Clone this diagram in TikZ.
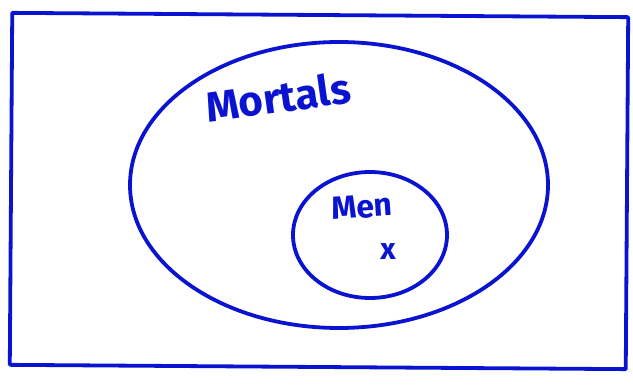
\documentclass[tikz,border=0pt]{standalone}
\usepackage{fontspec}
\setmainfont{Fira Sans}
\usetikzlibrary{shapes.geometric,positioning}
\definecolor{Pen}{HTML}{0A14D0}
\tikzset{
 ink/.style={draw=Pen,line width=3.8pt,line cap=round,line join=round},
 set/.style={ink,ellipse,inner sep=0pt},
 tag/.style={text=Pen,inner sep=0pt}
}
\begin{document}
\begin{tikzpicture}[x=1pt,y=-1pt]
\useasboundingbox (0,0) rectangle (633,385);
\node[ink,rectangle,minimum width=616pt,minimum height=352pt,rotate=-0.4] (universe) at (319,191) {};
\node[set,minimum width=418pt,minimum height=286pt] (mortals) at (339,185) {};
\node[set,minimum width=154pt,minimum height=126pt] (men) at (370,235) {};
\node[tag,font=\bfseries\fontsize{42}{42}\selectfont,rotate=8] (mortalslbl) at (278,97) {Mortals};
\node[tag,font=\bfseries\fontsize{32}{32}\selectfont,rotate=4] (menlbl) at (362,207) {Men};
\node[tag,font=\bfseries\fontsize{30}{30}\selectfont] (elem) at (388,252) {x};
\end{tikzpicture}
\end{document}
